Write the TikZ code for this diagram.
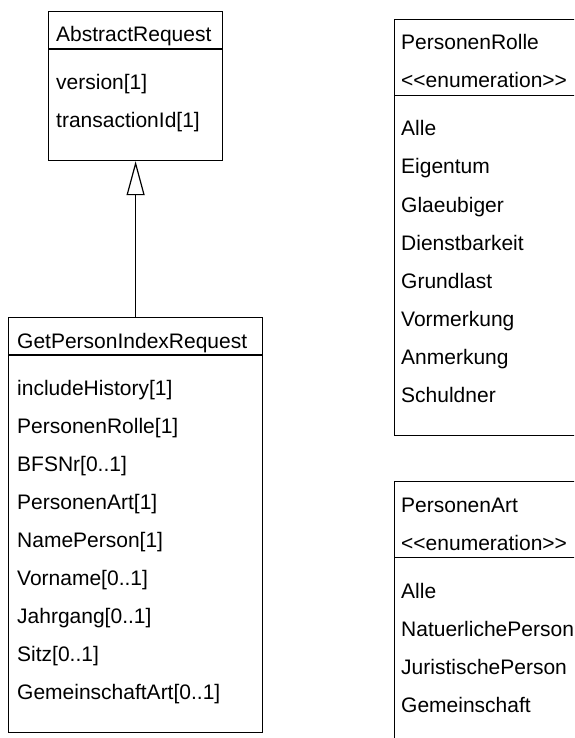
\documentclass[tikz,border=0pt]{standalone}
\usepackage{fontspec}
\setmainfont{Liberation Sans}
\usetikzlibrary{arrows.meta}
\newcommand{\enumstereo}{<\kern0pt<enumeration>\kern0pt>}
\begin{document}
\begin{tikzpicture}[x=1pt,y=-1pt,
  box/.style={draw, line width=1.2pt, inner sep=0, anchor=north west},
  txt/.style={anchor=base west, inner sep=0, font=\fontsize{21}{25}\selectfont},
  sep/.style={line width=1.2pt},
  gen/.style={line width=1.2pt, -{Triangle[open, length=34pt, width=18pt, line width=1.2pt]}}]
\useasboundingbox (0,0) rectangle (574,738);
\clip (0,0) rectangle (574,738);
% AbstractRequest
\node[box, minimum width=174pt, minimum height=149pt] (abs) at (48,11) {};
\draw[sep] (48,49) -- (222,49);
\node[txt] (abs-t) at (56,42) {AbstractRequest};
\node[txt] (abs-a1) at (56,89.5) {version[1]};
\node[txt] (abs-a2) at (56,127.5) {transactionId[1]};
% GetPersonIndexRequest
\node[box, minimum width=254pt, minimum height=415pt] (gp) at (8,317) {};
\draw[sep] (8,355) -- (262,355);
\node[txt] (gp-t) at (17,348) {GetPersonIndexRequest};
\foreach \t [count=\i from 0] in {includeHistory[1],PersonenRolle[1],BFSNr[0..1],PersonenArt[1],NamePerson[1],Vorname[0..1],Jahrgang[0..1],Sitz[0..1],GemeinschaftArt[0..1]}
  \node[txt] (gp-a\i) at (17,395.5+38*\i) {\t};
% generalization
\draw[gen] (gp.north) -- (abs.south);
% PersonenRolle
\node[box, minimum width=220pt, minimum height=415.5pt] (pr) at (394,19) {};
\draw[sep] (394,95.5) -- (614,95.5);
\node[txt] (pr-t) at (401,50) {PersonenRolle};
\node[txt] (pr-s) at (401,88) {\enumstereo};
\foreach \t [count=\i from 0] in {Alle,Eigentum,Glaeubiger,Dienstbarkeit,Grundlast,Vormerkung,Anmerkung,Schuldner}
  \node[txt] (pr-a\i) at (401,136+38*\i) {\t};
% PersonenArt
\node[box, minimum width=220pt, minimum height=300pt] (pa) at (394,481) {};
\draw[sep] (394,557.5) -- (614,557.5);
\node[txt] (pa-t) at (401,512) {PersonenArt};
\node[txt] (pa-s) at (401,550) {\enumstereo};
\foreach \t [count=\i from 0] in {Alle,NatuerlichePerson,JuristischePerson,Gemeinschaft}
  \node[txt] (pa-a\i) at (401,598+38*\i) {\t};
\end{tikzpicture}
\end{document}
